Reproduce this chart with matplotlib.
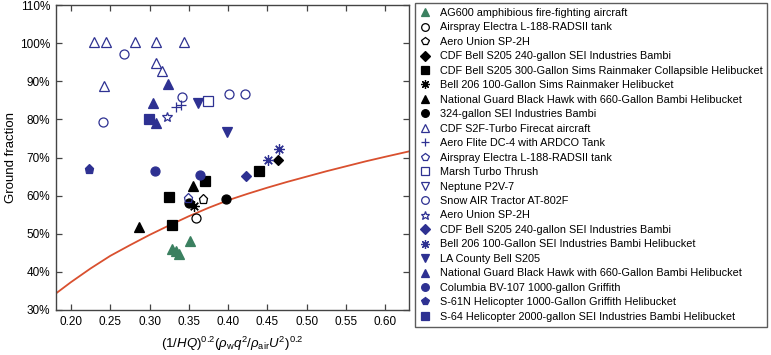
import numpy as np
import matplotlib
matplotlib.use("Agg")
import matplotlib.pyplot as plt
from matplotlib.ticker import FuncFormatter

plt.rcParams['font.family'] = ['Liberation Sans', 'DejaVu Sans']
plt.rcParams['mathtext.fontset'] = 'custom'
plt.rcParams['mathtext.rm'] = 'Liberation Sans'
plt.rcParams['mathtext.it'] = 'Liberation Sans:italic'
plt.rcParams['mathtext.bf'] = 'Liberation Sans:bold'

# colores
BLUE = '#2e3192'
BLACK = '#000000'
GREEN = '#3b8060'
RED = '#d9502f'

# datos (x, fraccion en %)
labels = [
    "AG600 amphibious fire-fighting aircraft",
    "Airspray Electra L-188-RADSII tank",
    "Aero Union SP-2H",
    "CDF Bell S205 240-gallon SEI Industries Bambi",
    "CDF Bell S205 300-Gallon Sims Rainmaker Collapsible Helibucket",
    "Bell 206 100-Gallon Sims Rainmaker Helibucket",
    "National Guard Black Hawk with 660-Gallon Bambi Helibucket",
    "324-gallon SEI Industries Bambi",
    "CDF S2F-Turbo Firecat aircraft",
    "Aero Flite DC-4 with ARDCO Tank",
    "Airspray Electra L-188-RADSII tank",
    "Marsh Turbo Thrush",
    "Neptune P2V-7",
    "Snow AIR Tractor AT-802F",
    "Aero Union SP-2H",
    "CDF Bell S205 240-gallon SEI Industries Bambi",
    "Bell 206 100-Gallon SEI Industries Bambi Helibucket",
    "LA County Bell S205",
    "National Guard Black Hawk with 660-Gallon Bambi Helibucket",
    "Columbia BV-107 1000-gallon Griffith",
    "S-61N Helicopter 1000-Gallon Griffith Helibucket",
    "S-64 Helicopter 2000-gallon SEI Industries Bambi Helibucket",
]

x_vals = [
    [0.329, 0.333, 0.338, 0.352],
    [0.359],
    [0.3685],
    [0.4638],
    [0.3243, 0.3285, 0.3707, 0.4392],
    [0.357],
    [0.3548, 0.2861],
    [0.3497, 0.397],
    [0.2296, 0.2445, 0.2818, 0.3081, 0.3434, 0.2424, 0.308, 0.3158],
    [0.3336, 0.340],
    [0.3485],
    [0.3748],
    [],
    [0.267, 0.2403, 0.341, 0.401, 0.4214],
    [0.322],
    [0.4227],
    [0.451, 0.465],
    [0.361, 0.398],
    [0.3238, 0.304, 0.308],
    [0.3069, 0.3646],
    [0.2225],
    [0.2988],
]

y_vals = [
    [46.0, 45.5, 44.8, 48.2],
    [54.2],
    [59.1],
    [69.4],
    [59.6, 52.3, 63.9, 66.5],
    [57.3],
    [62.6, 51.9],
    [58.0, 59.0],
    [100.2, 100.2, 100.2, 100.2, 100.2, 88.8, 94.7, 92.7],
    [83.2, 83.8],
    [59.5],
    [84.9],
    [],
    [97.2, 79.4, 86.0, 86.7, 86.7],
    [80.6],
    [65.2],
    [69.4, 72.3],
    [84.3, 76.8],
    [89.3, 84.4, 79.0],
    [66.5, 65.3],
    [66.9],
    [80.1],
]

# curva (x, %)
curva_x = [0.18, 0.20, 0.225, 0.25, 0.275, 0.30, 0.325, 0.35, 0.375, 0.40,
           0.425, 0.45, 0.475, 0.50, 0.525, 0.55, 0.575, 0.60, 0.63]
curva_y = [34.2, 37.3, 40.9, 44.2, 47.0, 49.7, 52.2, 54.6, 56.8, 58.8,
           60.5, 62.1, 63.6, 65.0, 66.4, 67.7, 69.0, 70.2, 71.6]

AST = (8, 2, 0)
estilos = [
    ('^', GREEN, True), ('o', BLACK, False), ('p', BLACK, False), ('D', BLACK, True),
    ('s', BLACK, True), (AST, BLACK, False), ('^', BLACK, True), ('o', BLACK, True),
    ('^', BLUE, False), ('+', BLUE, False), ('p', BLUE, False), ('s', BLUE, False),
    ('v', BLUE, False), ('o', BLUE, False), ('*', BLUE, False), ('D', BLUE, True),
    (AST, BLUE, False), ('v', BLUE, True), ('^', BLUE, True), ('o', BLUE, True),
    ('p', BLUE, True), ('s', BLUE, True),
]

fig = plt.figure(figsize=(7.71, 3.55), dpi=100)
ax = fig.add_axes([56/771, 45/355, (409-56)/771, (310-5)/355])

ax.plot(curva_x, curva_y, color=RED, lw=1.3, zorder=1)

handles = []
for lab, xs, ys, (m, c, filled) in zip(labels, x_vals, y_vals, estilos):
    ms = 6.5
    if m == 'D':
        ms = 5.5
    if m == '*':
        ms = 7.5
    if m in ('+', AST):
        ms = 7.5
    h, = ax.plot(xs, ys, linestyle='none', marker=m, ms=ms,
                 markeredgecolor=c, markerfacecolor=c if filled else 'none',
                 markeredgewidth=0.9, label=lab, zorder=3)
    handles.append(h)

ax.set_xlim(0.181, 0.630)
ax.set_ylim(30, 110)
ax.set_xticks(np.arange(0.20, 0.601, 0.05))
ax.set_yticks(np.arange(30, 111, 10))
ax.xaxis.set_major_formatter(FuncFormatter(lambda v, p: "%.2f" % v))
ax.yaxis.set_major_formatter(FuncFormatter(lambda v, p: "%d%%" % round(v)))
ax.tick_params(direction='in', length=4, width=0.9, color='#444444',
               top=True, right=True, labelsize=8.5, pad=4)
for s in ax.spines.values():
    s.set_color('#444444')
    s.set_linewidth(1.0)

ax.set_ylabel("Ground fraction", fontsize=9.5, labelpad=2)
ax.set_xlabel(r"$(1/\mathit{HQ})^{0.2}(\rho_{\mathrm{w}}\mathit{q}^2/\rho_{\mathrm{air}}\mathit{U}^2)^{0.2}$",
              fontsize=9.5, labelpad=5)

leg = fig.legend(handles=handles, loc='upper left',
                 bbox_to_anchor=(415/771, 1 - 3/355), fontsize=7.85,
                 frameon=True, fancybox=False, handlelength=1.0,
                 handletextpad=0.8, borderpad=0.45, labelspacing=0.41,
                 borderaxespad=0, markerscale=0.85)
leg.get_frame().set_edgecolor('#333333')
leg.get_frame().set_linewidth(1.0)

fig.savefig("out.png", dpi=100)
